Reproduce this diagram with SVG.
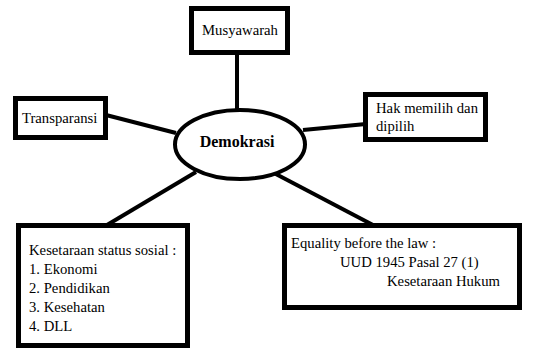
<svg xmlns="http://www.w3.org/2000/svg" width="549" height="362" viewBox="0 0 549 362">
  <style>
    .box { fill: #fff; stroke: #000; stroke-width: 5; }
    .hub { fill: #fff; stroke: #000; stroke-width: 4; }
    .link { stroke: #000; stroke-width: 4; fill: none; }
    text { font-family: "Liberation Serif", "Times New Roman", serif; font-size: 14.7px; fill: #000; }
    .title { font-weight: bold; font-size: 16px; }
  </style>
  <rect width="549" height="362" fill="#fff"/>

  <!-- connectors from the central ellipse to each box -->
  <g id="connectors">
    <line class="link" x1="237" y1="53" x2="237" y2="112"/>
    <line class="link" x1="106" y1="115" x2="176" y2="133"/>
    <line class="link" x1="303" y1="130" x2="366" y2="124"/>
    <line class="link" x1="107" y1="225" x2="196" y2="172"/>
    <line class="link" x1="272" y1="172" x2="373" y2="225"/>
  </g>

  <g id="demokrasi">
    <ellipse class="hub" cx="240" cy="144.5" rx="65" ry="34.5"/>
    <text class="title" x="237" y="147" text-anchor="middle">Demokrasi</text>
  </g>

  <g id="musyawarah">
    <rect class="box" x="191.5" y="8.5" width="96" height="44"/>
    <text x="240" y="35" text-anchor="middle">Musyawarah</text>
  </g>

  <g id="transparansi">
    <rect class="box" x="15.5" y="98.5" width="90" height="39"/>
    <text x="22" y="123">Transparansi</text>
  </g>

  <g id="hak-memilih">
    <rect class="box" x="365.5" y="94.5" width="120" height="45"/>
    <text x="376" y="113">Hak memilih dan</text>
    <text x="376" y="131">dipilih</text>
  </g>

  <g id="kesetaraan-sosial">
    <rect class="box" x="18.5" y="225.5" width="169" height="120"/>
    <text x="29" y="255">Kesetaraan status sosial :</text>
    <text x="29" y="274">1. Ekonomi</text>
    <text x="29" y="293">2. Pendidikan</text>
    <text x="29" y="312">3. Kesehatan</text>
    <text x="29" y="331">4. DLL</text>
  </g>

  <g id="equality">
    <rect class="box" x="284.5" y="225.5" width="235" height="82"/>
    <text x="291" y="248">Equality before the law :</text>
    <text x="340" y="267">UUD 1945 Pasal 27 (1)</text>
    <text x="387" y="286">Kesetaraan Hukum</text>
  </g>
</svg>
